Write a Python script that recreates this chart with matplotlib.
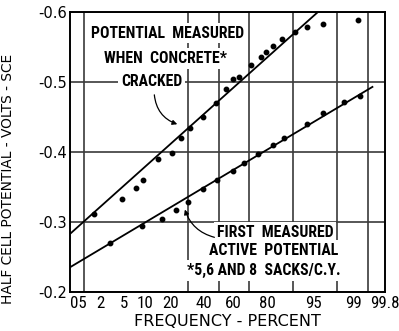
import math
from statistics import NormalDist

import numpy as np
import matplotlib
matplotlib.use("Agg")
import matplotlib.pyplot as plt
from matplotlib import font_manager

# Data ###########################################
# upper series: potential measured when concrete cracked (percent, volts)
cracked_pct = [1.52, 4.64, 7.5, 9.6, 14.5, 21.1, 25.9, 31.2, 39.5, 48.3, 55.1,
               59.9, 63.8, 71.2, 76.8, 79.4, 82.6, 86.3, 90.6, 93.6, 96.4, 99.19]
cracked_v = [-0.311, -0.333, -0.349, -0.360, -0.390, -0.399, -0.420, -0.434,
             -0.450, -0.470, -0.490, -0.504, -0.507, -0.524, -0.536, -0.543,
             -0.551, -0.561, -0.571, -0.579, -0.583, -0.589]

# lower series: first measured active potential
active_pct = [2.95, 9.07, 16.1, 23.2, 29.9, 39.5, 49.0, 59.9, 67.0, 75.2,
              82.6, 87.1, 93.6, 96.4, 98.5, 99.27]
active_v = [-0.270, -0.294, -0.304, -0.317, -0.329, -0.347, -0.360, -0.373,
            -0.384, -0.397, -0.410, -0.420, -0.440, -0.456, -0.471, -0.480]

# fitted lines (end points)
cracked_fit_pct = [0.52, 95.7]
cracked_fit_v = [-0.284, -0.600]
active_fit_pct = [0.52, 99.61]
active_fit_v = [-0.236, -0.493]

xtick_pct = [0.5, 2, 5, 10, 20, 40, 60, 80, 95, 99, 99.8]
xtick_labels = ["05", "2", "5", "10", "20", "40", "60", "80", "95", "99", "99.8"]
xgrid_pct = [1, 2, 5, 10, 20, 30, 40, 50, 60, 70, 80, 90, 95, 98, 99, 99.5]
yticks = [-0.6, -0.5, -0.4, -0.3, -0.2]
ytick_labels = ["-0.6", "-0.5", "-0.4", "-0.3", "-0.2"]

# Probability scale ##############################
_nd = NormalDist()
_ppf = np.vectorize(_nd.inv_cdf, otypes=[float])
_erf = np.vectorize(math.erf, otypes=[float])

def pct_to_z(p):
    p = np.clip(np.asarray(p, dtype=float), 1e-4, 100 - 1e-4)
    return _ppf(p / 100.0)

def z_to_pct(z):
    z = np.asarray(z, dtype=float)
    return 50.0 * (1.0 + _erf(z / math.sqrt(2.0)))

# look for an upright narrow face, the lettering on the original is condensed
def narrow_font(bold=False):
    names = ["DejaVu Sans Condensed", "Liberation Sans Narrow", "Roboto Condensed"]
    want = 700 if bold else 400
    for n in names:
        for f in font_manager.fontManager.ttflist:
            if f.name == n and f.style == "normal" and f.weight == want:
                return f.fname
    for f in font_manager.fontManager.ttflist:
        fn = f.fname
        if f.name == "DejaVu Sans" and "Condensed" in fn and "Oblique" not in fn \
                and (("Bold" in fn) == bold):
            return fn
    return None

_nf = narrow_font()
_nfb = narrow_font(bold=True) or _nf

def nprop(size, bold=False):
    fn = _nfb if bold else _nf
    if fn:
        return font_manager.FontProperties(fname=fn, size=size)
    return font_manager.FontProperties(family="Liberation Sans", size=size * 0.85)

fig = plt.figure(figsize=(3.99, 3.31), dpi=100)
ax = fig.add_axes([70 / 399, 1 - 292 / 331, 315 / 399, 280 / 331])
ax.set_xscale("function", functions=(pct_to_z, z_to_pct))
ax.set_xlim(0.52, 99.8)
ax.set_ylim(-0.2, -0.6)

ax.set_xticks(xtick_pct)
ax.set_xticklabels(xtick_labels, fontproperties=nprop(12.2))
ax.get_xticklabels()[0].set_ha("left")
ax.set_xticks(xgrid_pct, minor=True)
ax.set_yticks(yticks)
ax.set_yticklabels(ytick_labels, fontsize=10.5)
ax.tick_params(axis="both", which="both", length=0)
ax.tick_params(axis="x", pad=3)
ax.tick_params(axis="y", pad=2)

ax.grid(which="minor", axis="x", color="#3a3a3a", lw=1.2, zorder=1)
ax.grid(which="major", axis="y", color="#3a3a3a", lw=1.2, zorder=1)
for s in ax.spines.values():
    s.set_linewidth(1.4)

ax.plot(cracked_fit_pct, cracked_fit_v, color="black", lw=1.3, zorder=4)
ax.plot(active_fit_pct, active_fit_v, color="black", lw=1.3, zorder=4)
ax.plot(cracked_pct, cracked_v, "o", color="black", ms=3.2, zorder=5)
ax.plot(active_pct, active_v, "o", color="black", ms=3.2, zorder=5)

box = dict(facecolor="white", edgecolor="none", pad=2)
tkw = dict(transform=ax.transAxes, ha="center", va="center",
           fontproperties=nprop(11.3, bold=True), bbox=box, zorder=3)
ax.text(0.311, 0.925, "POTENTIAL  MEASURED", **tkw)
ax.text(0.302, 0.834, "WHEN  CONCRETE*", **tkw)
ax.text(0.260, 0.752, "CRACKED", **tkw)
ax.text(0.651, 0.212, "FIRST  MEASURED", **tkw)
ax.text(0.648, 0.148, "ACTIVE  POTENTIAL", **tkw)
ax.text(0.616, 0.077, "*5,6 AND 8  SACKS/C.Y.", **tkw)

akw = dict(arrowstyle="-|>", color="black", lw=0.9, mutation_scale=7)
ax.annotate("", xy=(0.349, 0.596), xytext=(0.267, 0.714),
            xycoords="axes fraction", textcoords="axes fraction",
            arrowprops=dict(connectionstyle="arc3,rad=0.35", **akw), zorder=4)
ax.annotate("", xy=(0.362, 0.304), xytext=(0.467, 0.193),
            xycoords="axes fraction", textcoords="axes fraction",
            arrowprops=dict(connectionstyle="arc3,rad=-0.3", **akw), zorder=4)

ax.set_xlabel("FREQUENCY - PERCENT", fontsize=11.5, labelpad=2)
ax.set_ylabel("HALF CELL POTENTIAL - VOLTS - SCE", fontsize=9.9)
ax.yaxis.set_label_coords(-0.175, 0.405)

fig.savefig("out.png", dpi=100)
